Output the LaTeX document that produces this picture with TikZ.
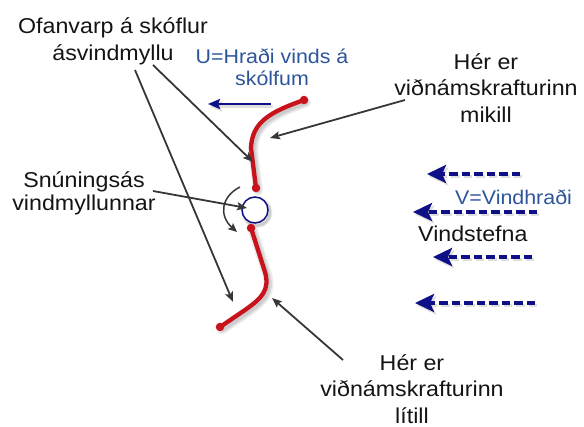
\documentclass[tikz,border=0pt]{standalone}
\usepackage{fontspec}
\setmainfont{Liberation Sans}[FakeStretch=1.08]
\usetikzlibrary{arrows.meta}
\definecolor{bladered}{RGB}{200,18,28}
\definecolor{labelblue}{RGB}{45,85,155}
\definecolor{windblue}{RGB}{15,15,135}
\definecolor{pointer}{RGB}{55,55,55}
\definecolor{ink}{RGB}{20,20,20}
\tikzset{
  lbl/.style={inner sep=0pt, align=center, text=ink, font=\fontsize{21.5}{27}\selectfont},
  bluelbl/.style={inner sep=0pt, align=center, text=labelblue, font=\fontsize{19.8}{22}\selectfont},
  blade/.style={draw=bladered, line width=4.3pt, line cap=round},
  bladeend/.style={fill=bladered, draw=none, circle, minimum size=8.5pt, inner sep=0pt},
  pointerarrow/.style={draw=pointer, line width=1.8pt, -{Stealth[length=10pt,width=8pt,inset=2pt]}},
  windarrow/.style={draw=windblue, line width=3.6pt, dash pattern=on 8.5pt off 4pt,
    -{Stealth[length=19pt,width=18pt,inset=4pt]}},
  dropshadow/.style={draw=black, draw opacity=#1, fill opacity=#1, transform canvas={shift={(2pt,-2.5pt)}}},
  softline/.style={draw=black, draw opacity=0.07, line cap=round, line join=round, transform canvas={shift={(2pt,-2.5pt)}}},
}
\begin{document}
\begin{tikzpicture}[x=1pt,y=-1pt]
\useasboundingbox (0,0) rectangle (584,427);

% labels
\node[lbl] (proj) at (113,41.5) {Ofanvarp á skóflur\\ásvindmyllu};
\node[bluelbl] (uspeed) at (272,67) {U=Hraði vinds á\\skólfum};
\node[lbl, font=\fontsize{21.5}{26.5}\selectfont] (high) at (486,88) {Hér er\\viðnámskrafturinn\\mikill};
\node[lbl, font=\fontsize{21.5}{23}\selectfont] (axis) at (84,193) {Snúningsás\\vindmyllunnar};
\node[bluelbl, anchor=base west] (vspeed) at (455,205) {V=Vindhraði};
\node[lbl, anchor=base west] (wdir) at (418,242) {Vindstefna};
\node[lbl, font=\fontsize{21.5}{26.5}\selectfont] (low) at (412,389) {Hér er\\viðnámskrafturinn\\lítill};

% rotor hub and blades
\coordinate (uptip) at (304,100);
\coordinate (uproot) at (256,188);
\coordinate (loroot) at (251,228);
\coordinate (lotip) at (220,327);
\coordinate (hubc) at (255,210);
\coordinate (hubin) at (247,208);

% soft shadows below the blades and the hub
\foreach \w in {10,7,4.5} {
  \path[softline, line width=\w pt] (uptip) .. controls (270,112) and (252,122) .. (251,148) -- (uproot);
  \path[softline, line width=\w pt] (loroot) -- (265,272) .. controls (270,290) and (262,298) .. (245,310) -- (lotip);
  \path[softline, line width=\w pt/2] (hubc) circle[radius=13pt];
}
\node[circle, draw=windblue, line width=1.5pt, minimum size=26pt, inner sep=0pt, fill=white] (hub) at (hubc) {};

\path[blade] (uptip) .. controls (270,112) and (252,122) .. (251,148) -- (uproot);
\path[blade] (loroot) -- (265,272) .. controls (270,290) and (262,298) .. (245,310) -- (lotip);
\foreach \p in {uptip,uproot,loroot,lotip} \node[bladeend] at (\p) {};

% blade speed arrow
\coordinate (ustart) at (271,104);
\coordinate (uend) at (208,104);
\draw[dropshadow=0.12, line width=2.4pt, -{Stealth[length=12pt,width=10pt,inset=2pt]}] (ustart) -- (uend);
\draw[draw=windblue, line width=2.4pt, -{Stealth[length=12pt,width=10pt,inset=2pt]}] (ustart) -- (uend);

% rotation sense
\coordinate (rotA) at (240,187);
\coordinate (rotB) at (237,232);
\draw[draw=pointer, line width=1.5pt, -{Stealth[length=9pt,width=8pt,inset=2pt]}] (rotA) .. controls (222,196) and (218,215) .. (rotB);

% pointers
\coordinate (pA) at (253,162);
\coordinate (pB) at (233,302);
\coordinate (pC) at (270,138);
\coordinate (pD) at (272,298);
\draw[pointerarrow] (153,65) -- (pA);
\draw[pointerarrow] (135,70) -- (pB);
\draw[pointerarrow] (405,100) -- (pC);
\draw[pointerarrow] (153,191) -- (hubin);
\draw[pointerarrow] (343,360) -- (pD);

% wind arrows
\coordinate (w1) at (520,174); \coordinate (t1) at (427,174);
\coordinate (w2) at (537,212); \coordinate (t2) at (413,212);
\coordinate (w3) at (532,257); \coordinate (t3) at (433,257);
\coordinate (w4) at (535,303); \coordinate (t4) at (415,303);
\foreach \a/\b in {w1/t1,w2/t2,w3/t3,w4/t4} {
  \draw[windarrow, dropshadow=0.13] (\a) -- (\b);
  \draw[windarrow] (\a) -- (\b);
}
\end{tikzpicture}
\end{document}
